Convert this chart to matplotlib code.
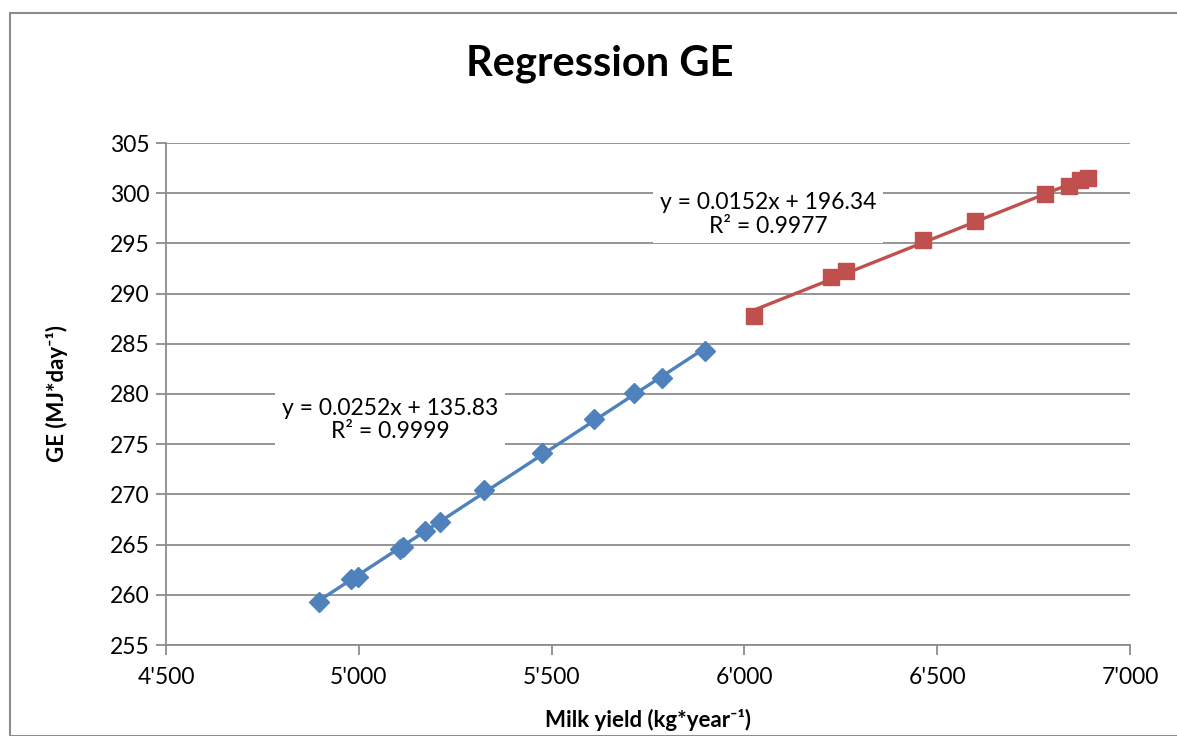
import numpy as np
import matplotlib.pyplot as plt
from matplotlib.patches import Rectangle
from matplotlib.ticker import FuncFormatter

plt.rcParams['font.family'] = ['Lato', 'DejaVu Sans']

# blue series (diamonds)
milk_a = [4897, 4980, 4998, 5107, 5115, 5172, 5210, 5325, 5475, 5610, 5714, 5786, 5898]
ge_a = [259.3, 261.6, 261.8, 264.6, 264.8, 266.4, 267.3, 270.4, 274.1, 277.5, 280.1, 281.6, 284.3]

# red series (squares)
milk_b = [6025, 6224, 6263, 6463, 6598, 6779, 6841, 6870, 6891]
ge_b = [287.8, 291.7, 292.3, 295.3, 297.2, 299.9, 300.7, 301.3, 301.5]

eq_a = 'y = 0.0252x + 135.83\nR² = 0.9999'
eq_b = 'y = 0.0152x + 196.34\nR² = 0.9977'

blue = '#4F81BD'
red = '#C0504D'
grid = '#8C8C8C'

fig = plt.figure(figsize=(11.77, 7.36), dpi=100)
fig.patches.append(Rectangle((10/1177, 0), 1.2, 1 - 13/736, transform=fig.transFigure,
                             fill=False, edgecolor='#8C8C8C', lw=1.5))
ax = fig.add_axes([166/1177, 91/736, 964/1177, 502/736])

for x, y, c, m in [(milk_a, ge_a, blue, 'D'), (milk_b, ge_b, red, 's')]:
    x = np.array(x); y = np.array(y)
    k, b = np.polyfit(x, y, 1)
    xs = np.array([x.min(), x.max()])
    ax.plot(xs, k * xs + b, color=c, lw=2.4, zorder=3)
    ax.plot(x, y, ls='none', marker=m, ms=11 if m == 's' else 10.5, color=c, zorder=4)

ax.set_xlim(4500, 7000)
ax.set_ylim(255, 305)
ax.set_xticks(np.arange(4500, 7001, 500))
ax.set_yticks(np.arange(255, 306, 5))
ax.xaxis.set_major_formatter(FuncFormatter(lambda v, p: f"{int(v):,}".replace(',', "'")))
ax.yaxis.grid(True, color=grid, lw=1.3)
ax.set_axisbelow(True)
for s in ['top', 'right']:
    ax.spines[s].set_visible(False)
for s in ['left', 'bottom']:
    ax.spines[s].set_color(grid)
    ax.spines[s].set_linewidth(1.3)
ax.tick_params(axis='both', colors=grid, labelcolor='black', labelsize=16.5, length=7, width=1.3)
ax.tick_params(axis='x', pad=9)
ax.tick_params(axis='y', pad=5)

ax.text(5081, 277.4, eq_a, ha='center', va='center', fontsize=16.5, linespacing=1.15,
        bbox=dict(facecolor='white', edgecolor='none', pad=5), zorder=2)
ax.text(6061, 297.9, eq_b, ha='center', va='center', fontsize=16.5, linespacing=1.15,
        bbox=dict(facecolor='white', edgecolor='none', pad=5), zorder=2)

fig.text(600/1177, 1 - 64/736, 'Regression GE', ha='center', va='center',
         fontsize=30, fontweight='bold')
ax.set_xlabel('Milk yield (kg*year⁻¹)', fontsize=16, fontweight='bold', labelpad=15)
ax.set_ylabel('GE (MJ*day⁻¹)', fontsize=16, fontweight='bold', labelpad=30)

fig.savefig('out.png', dpi=100)
